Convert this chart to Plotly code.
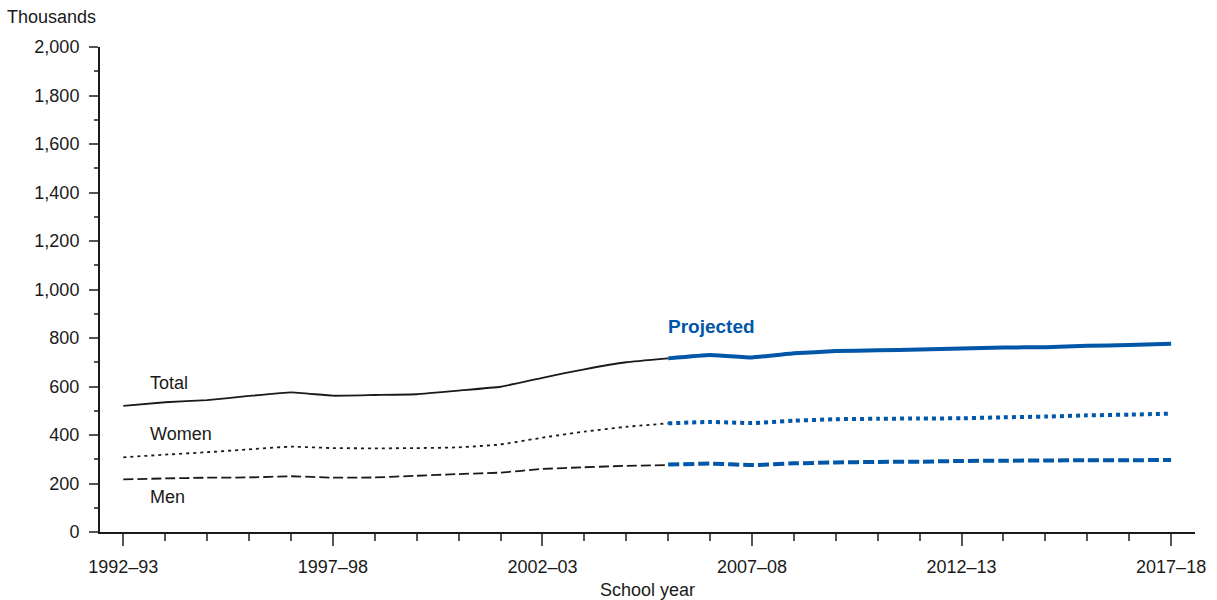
import plotly.graph_objects as go

# School years 1992–93 through 2017–18
years = [f"{y}\u2013{str(y + 1)[-2:]}" for y in range(1992, 2018)]
idx = list(range(len(years)))

# Associate's degrees conferred, in thousands (actual through 2005–06)
total_actual = [520, 535, 544, 561, 576, 562, 565, 568, 583, 599, 636, 671, 700, 716]
women_actual = [308, 319, 329, 341, 352, 346, 345, 346, 349, 361, 389, 414, 434, 448]
men_actual = [217, 221, 224, 225, 230, 224, 225, 232, 239, 245, 260, 267, 273, 276]

# Projected, 2005–06 through 2017–18
total_proj = [716, 730, 720, 737, 746, 749, 753, 757, 761, 762, 768, 771, 776]
women_proj = [448, 454, 449, 459, 465, 467, 468, 469, 473, 476, 481, 484, 488]
men_proj = [278, 282, 276, 283, 287, 289, 290, 293, 294, 295, 296, 296, 297]

label_years = [0, 5, 10, 15, 20, 25]

BLACK = "#1a1a1a"
BLUE = "#0057A8"
FONT = "Liberation Sans, Arial, sans-serif"
FS = 18

n_act = len(total_actual)
x_act = idx[:n_act]
x_proj = idx[n_act - 1:]

fig = go.Figure()

def add_line(x, y, color, width, dash):
    fig.add_trace(go.Scatter(
        x=x, y=y, mode="lines",
        line=dict(color=color, width=width, dash=dash, shape="spline", smoothing=0.3),
        hoverinfo="skip", showlegend=False,
    ))

add_line(x_act, total_actual, BLACK, 1.8, "solid")
add_line(x_act, women_actual, BLACK, 1.8, "3px,4px")
add_line(x_act, men_actual, BLACK, 1.8, "10px,4px")
add_line(x_proj, total_proj, BLUE, 4, "solid")
add_line(x_proj, women_proj, BLUE, 4, "4px,4px")
add_line(x_proj, men_proj, BLUE, 4, "11px,4px")

annotations = [
    dict(text="Total", x=0.6, y=614, xref="x", yref="y", xanchor="left", yanchor="middle",
         showarrow=False, font=dict(size=FS, color=BLACK, family=FONT)),
    dict(text="Women", x=0.6, y=404, xref="x", yref="y", xanchor="left", yanchor="middle",
         showarrow=False, font=dict(size=FS, color=BLACK, family=FONT)),
    dict(text="Men", x=0.6, y=144, xref="x", yref="y", xanchor="left", yanchor="middle",
         showarrow=False, font=dict(size=FS, color=BLACK, family=FONT)),
    dict(text="<b>Projected</b>", x=12.96, y=849, xref="x", yref="y", xanchor="left",
         yanchor="middle", showarrow=False, font=dict(size=19, color=BLUE, family=FONT)),
    dict(text="Thousands", x=-0.087, y=1.062, xref="paper", yref="paper", xanchor="left",
         yanchor="middle", showarrow=False, font=dict(size=FS, color=BLACK, family=FONT)),
    dict(text="School year", x=0.5, y=-0.119, xref="paper", yref="paper", xanchor="center",
         yanchor="middle", showarrow=False, font=dict(size=FS, color=BLACK, family=FONT)),
]

fig.update_layout(
    width=1217, height=600,
    margin=dict(l=100, r=22, t=47, b=68),
    paper_bgcolor="white", plot_bgcolor="white",
    font=dict(family=FONT, size=FS, color=BLACK),
    annotations=annotations,
    xaxis=dict(
        range=[-0.556, 25.57],
        tickmode="array", tickvals=label_years, ticktext=[years[i] for i in label_years],
        ticks="outside", ticklen=12, tickwidth=1.5, tickcolor="#555",
        minor=dict(tick0=0, dtick=1, ticks="outside", ticklen=7, tickwidth=1.5, tickcolor="#555"),
        showline=True, linecolor=BLACK, linewidth=2,
        showgrid=False, zeroline=False, ticklabelstandoff=5,
        tickfont=dict(size=FS, color=BLACK, family=FONT),
    ),
    yaxis=dict(
        range=[0, 2000],
        tickmode="linear", tick0=0, dtick=200, tickformat=",",
        ticks="outside", ticklen=9, tickwidth=1.5, tickcolor="#555",
        minor=dict(tick0=0, dtick=100, ticks="outside", ticklen=4, tickwidth=1.5, tickcolor="#555"),
        showline=True, linecolor=BLACK, linewidth=2,
        showgrid=False, zeroline=False, ticklabelstandoff=6,
        tickfont=dict(size=FS, color=BLACK, family=FONT),
    ),
)

fig.write_html("out.html")
